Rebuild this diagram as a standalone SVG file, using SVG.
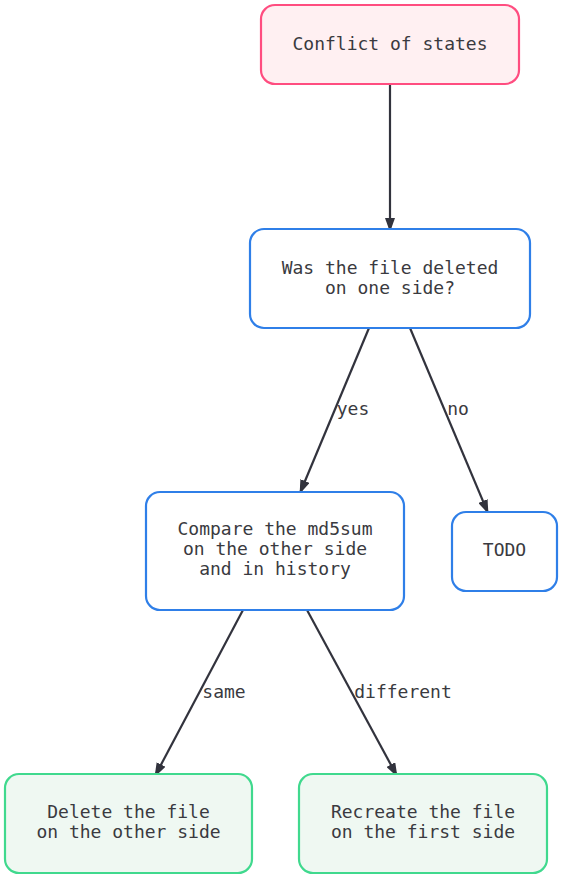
<svg xmlns="http://www.w3.org/2000/svg" width="562" height="879" viewBox="0 0 562 879">
<style>
text{font-family:"DejaVu Sans Mono","Liberation Mono",monospace;font-size:18px;fill:#3a3a40;text-anchor:middle}
.n rect{stroke-width:2.2}
.pink rect{fill:#fff0f2;stroke:#ff4d80}
.blue rect{fill:#ffffff;stroke:#2f7fe8}
.green rect{fill:#eff8f2;stroke:#40d98e}
.e{fill:none;stroke:#32333d;stroke-width:2.2}
</style>
<defs>
<marker id="ah" viewBox="0 0 14 10" refX="13" refY="5" markerWidth="14" markerHeight="10" markerUnits="userSpaceOnUse" orient="auto">
<path d="M0,0 L14,5 L0,10 Z" fill="#32333d"/>
</marker>
</defs>
<rect width="562" height="879" fill="#ffffff"/>
<g id="edges">
<path class="e" d="M390,84 L390,231" marker-end="url(#ah)"/>
<path class="e" d="M369,328 L300,493" marker-end="url(#ah)"/>
<path class="e" d="M410,328 L488,513" marker-end="url(#ah)"/>
<path class="e" d="M243,610 L155,776" marker-end="url(#ah)"/>
<path class="e" d="M307,610 L397,776" marker-end="url(#ah)"/>
<text x="353" y="415">yes</text>
<text x="458" y="415">no</text>
<text x="224" y="698">same</text>
<text x="403" y="698">different</text>
</g>
<g id="n1" class="n pink">
<rect x="261" y="5" width="258" height="79" rx="14"/>
<text x="390" y="50">Conflict of states</text>
</g>
<g id="n2" class="n blue">
<rect x="250" y="229" width="280" height="99" rx="14"/>
<text x="390" y="274">Was the file deleted</text>
<text x="390" y="294">on one side?</text>
</g>
<g id="n3" class="n blue">
<rect x="146" y="492" width="258" height="118" rx="14"/>
<text x="275" y="535">Compare the md5sum</text>
<text x="275" y="555">on the other side</text>
<text x="275" y="575">and in history</text>
</g>
<g id="n4" class="n blue">
<rect x="452" y="512" width="105" height="79" rx="14"/>
<text x="504.5" y="556">TODO</text>
</g>
<g id="n5" class="n green">
<rect x="5" y="774" width="247" height="99" rx="14"/>
<text x="128.5" y="818">Delete the file</text>
<text x="128.5" y="838">on the other side</text>
</g>
<g id="n6" class="n green">
<rect x="299" y="774" width="248" height="99" rx="14"/>
<text x="423" y="818">Recreate the file</text>
<text x="423" y="838">on the first side</text>
</g>
</svg>
